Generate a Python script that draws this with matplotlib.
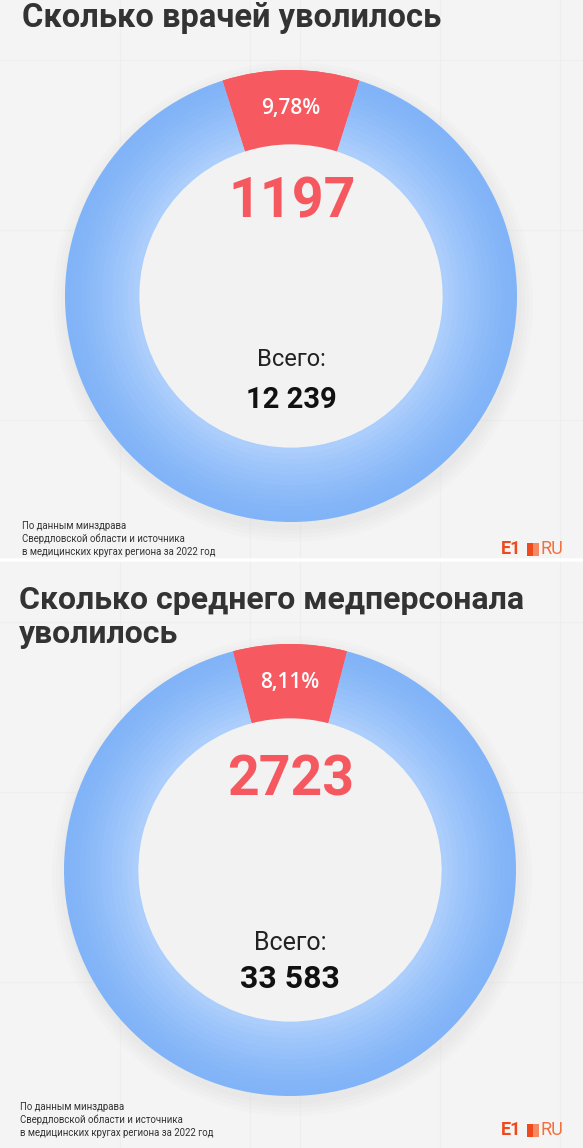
import numpy as np
import matplotlib
matplotlib.use("Agg")
import matplotlib.pyplot as plt
from matplotlib.patches import Rectangle
from matplotlib.colors import to_rgb

# ---------------- data ----------------
titles = ["Сколько врачей уволилось", "Сколько среднего медперсонала\nуволилось"]
departed = [1197, 2723]
totals = [12239, 33583]
total_label = "Всего:"
source_lines = ["По данным минздрава",
                "Свердловской области и источника",
                "в медицинских кругах региона за 2022 год"]

# ---------------- layout (pixels) ----------------
W, H = 583, 1148
DPI = 100
fig = plt.figure(figsize=(W / DPI, H / DPI), dpi=DPI)
fig.patch.set_facecolor("white")

FONT = "Roboto"

# background axes
bg = fig.add_axes([0, 0, 1, 1], zorder=0)
bg.set_xlim(0, W)
bg.set_ylim(H, 0)
bg.axis("off")
panels = [(0, 557), (562, H)]
for (y0, y1) in panels:
    bg.add_patch(Rectangle((0, y0), W, y1 - y0, color="#f4f4f4", zorder=0))
    for gx in [120, 250, 300, 440, 560]:
        bg.plot([gx, gx], [y0, y1], color="#eeeeee", lw=0.8, zorder=1)
    for gy in [y0 + 60, y0 + 230, y0 + 420]:
        bg.plot([0, W], [gy, gy], color="#eeeeee", lw=0.8, zorder=1)

centers = [(291, 296), (290, 870)]
radius_px = [226, 226]
ring_width = 0.325
blue_outer, blue_inner = "#80b3f7", "#accefc"
red_color = "#f65a60"

for i in range(2):
    cx, cy = centers[i]
    R = radius_px[i]
    L = 1.08
    side = 2 * R * L
    for k, a in enumerate([0.025, 0.025, 0.03, 0.035]):
        bg.add_patch(plt.Circle((cx + 2, cy + 6), R + 14 - 4 * k, color="#9a9a9a",
                                alpha=a, zorder=2, lw=0))
    ax = fig.add_axes([(cx - side / 2) / W, 1 - (cy + side / 2) / H, side / W, side / H],
                      zorder=2)
    vals = [departed[i], totals[i] - departed[i]]
    share = departed[i] / totals[i] * 360
    start = 90 + share / 2
    n = 14
    c0, c1 = np.array(to_rgb(blue_outer)), np.array(to_rgb(blue_inner))
    for k in range(n):
        r = 1 - k * ring_width / n
        t = (k / (n - 1)) ** 1.3
        col = tuple(c0 * (1 - t) + c1 * t)
        ax.pie(vals, radius=r, startangle=start, counterclock=False,
               colors=[red_color, col],
               wedgeprops=dict(width=ring_width / n + 0.004, linewidth=0))
    wedges, _, autotexts = ax.pie(
        vals, radius=1, startangle=start, counterclock=False,
        colors=[red_color, "none"],
        wedgeprops=dict(width=ring_width, linewidth=0),
        autopct=lambda p: (f"{p:.2f}".replace(".", ",") + "%") if p < 50 else "",
        pctdistance=1 - ring_width / 2 - 0.01,
        textprops=dict(color="white", fontsize=15, family="Open Sans", weight="semibold"))
    ax.add_patch(plt.Circle((0, 0), 1 - ring_width, color="#f2f2f2", lw=0, zorder=0.5))
    ax.set_xlim(-L, L)
    ax.set_ylim(-L, L)
    ax.set_aspect("auto")
    ax.axis("off")

# text overlay axes
tx = fig.add_axes([0, 0, 1, 1], zorder=5)
tx.set_xlim(0, W)
tx.set_ylim(H, 0)
tx.axis("off")
tx.patch.set_alpha(0)

tx.text(22, 18, titles[0], fontsize=23.5, family=FONT, weight="bold", color="#333333",
        va="center", ha="left")
tx.text(19, 617, titles[1], fontsize=23, family=FONT, weight="bold", color="#333333",
        va="center", ha="left", linespacing=1.15)

big_y = [202, 781]
tot_lbl_y = [360, 943]
tot_val_y = [400, 979]
tot_sizes = [21, 23]
lbl_sizes = [17, 18]
for i in range(2):
    cx = centers[i][0]
    tx.text(cx + 1, big_y[i], f"{departed[i]}", fontsize=40, family=FONT, weight="bold",
            color="#f5585f", ha="center", va="center")
    tx.text(cx, tot_lbl_y[i], total_label, fontsize=lbl_sizes[i], family=FONT,
            weight="normal", color="#222222", ha="center", va="center")
    tx.text(cx, tot_val_y[i], f"{totals[i]:,}".replace(",", " "), fontsize=tot_sizes[i],
            family=FONT, weight="bold", color="#111111", ha="center", va="center")

foot_y = [539, 1120]
foot_x = [22, 20]
logo_y = [549, 1130]
for i in range(2):
    tx.text(foot_x[i], foot_y[i], "\n".join(source_lines), fontsize=6.9, family=FONT,
            color="#333333", ha="left", va="center", linespacing=1.3)
    ly = logo_y[i]
    tx.text(501, ly, "E1", fontsize=13, family=FONT, weight="bold", color="#ee4a1e",
            ha="left", va="center")
    tx.add_patch(Rectangle((527, ly - 6.5), 6, 13, color="#ee4a1e", lw=0))
    tx.add_patch(Rectangle((533, ly - 6.5), 6, 13, color="#f58a62", lw=0))
    tx.text(541, ly, "RU", fontsize=13, family=FONT, weight="normal", color="#f2703d",
            ha="left", va="center")

fig.savefig("out.png", dpi=DPI)
